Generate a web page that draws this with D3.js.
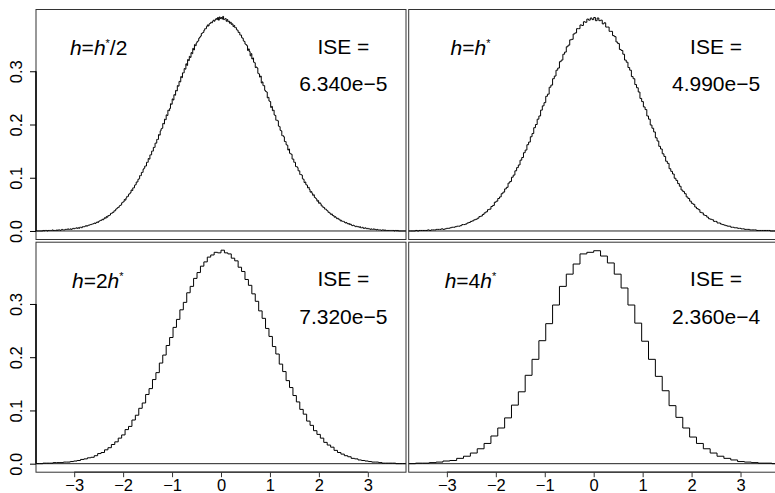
<!DOCTYPE html>
<html>
<head>
<meta charset="utf-8">
<script src="https://cdn.jsdelivr.net/npm/d3@7"></script>
<style>
  body { margin: 0; background: #fff; }
  svg { display: block; font-family: "Liberation Sans", Arial, Helvetica, sans-serif; }
</style>
</head>
<body>
<div id="chart"></div>
<script>
// DATA ------------------------------
// bin heights are density x 1000, read left to right starting at x = -3.78
const binStart = -3.78;
const binWidths = [0.0175, 0.035, 0.07, 0.14];

// h = h*/2
const histHalf = [
  0,0,0,0,0,0,
  0,0,1,0,1,1,1,0,1,1, 1,1,1,2,1,1,1,1,2,1, 2,2,1,2,3,2,2,2,3,3, 3,4,3,3,4,3,4,5,4,5,
  5,6,5,6,5,7,7,6,8,8, 8,9,10,9,10,11,11,12,12,13, 13,14,15,14,16,17,16,18,19,20,
  20,22,21,23,25,24,27,26,29,29, 30,33,33,35,35,38,38,41,42,44, 44,47,48,49,53,54,55,59,58,62,
  65,65,69,70,72,77,76,81,81,86, 87,92,92,97,98,104,104,110,110,116,
  118,122,122,129,129,136,135,143,143,150, 150,157,157,165,165,172,172,181,180,188,
  192,193,202,201,210,209,218,217,227,226, 230,239,238,248,246,256,255,264,263,273,
  272,281,280,290,288,297,297,305,304,314, 311,322,320,328,326,335,333,343,340,350,
  348,353,356,357,362,364,366,371,372,373, 377,380,380,384,387,385,389,390,392,391,
  394,396,394,397,399,397,401,396,402,399,
  401,398,403,397,398,399,394,397,393,394, 390,392,388,389,384,386,382,382,378,377,
  373,373,368,368,363,362,357,356,351,350, 348,339,342,337,329,333,323,325,317,316,
  307,308,306,296,295,289,291,278,280,273, 273,264,262,261,250,251,244,243,232,234,
  226,227,218,217,208,208,207,197,196,189, 188,179,179,177,168,168,162,161,152,154,
  146,145,144,135,135,129,129,121,121,119, 113,113,106,106,105,98,97,91,92,87,
  86,81,82,78,73,74,71,67,68,63, 62,60,56,57,52,53,51,47,47,44,
  44,41,41,39,38,35,35,33,31,32, 29,29,26,27,25,23,24,22,22,19,
  20,18,18,18,16,15,16,14,13,14, 12,13,11,10,11,10,9,8,9,8,
  8,7,8,6,6,7,5,5,6,5, 4,5,4,4,3,4,3,3,4,3, 3,2,3,2,2,2,2,1,2,2,
  1,2,1,1,1,1,1,1,1,1, 1,1,0,1,1,0,1,0,0,0, 0,0,0,0,0,0
];

// h = h*
const histOne = [
  0,0,0,0,1,0,1,1,
  1,1,1,2,1,2,2,2,3,3, 3,4,3,4,5,5,6,7,7,8, 9,9,10,12,12,13,15,16,18,19,
  21,22,24,27,28,31,34,36,40,41, 46,48,54,56,61,64,70,73,79,82,
  90,93,101,105,113,119,124,133,138,147, 152,162,167,177,183,194,200,210,216,227,
  235,241,253,257,270,274,286,291,302,306, 318,321,332,336,346,349,359,360,370,372,
  380,380,387,386,393,392,398,396,400,397,
  401,395,400,395,396,389,391,383,383,375, 375,367,365,355,352,341,339,332,321,317,
  307,302,290,286,275,269,261,249,243,233, 228,216,210,199,193,186,175,169,159,154,
  145,140,131,127,117,112,107,99,95,89, 84,77,74,70,64,61,56,52,50,45,
  42,40,35,34,30,29,26,23,22,21, 18,18,15,15,13,12,11,10,9,9,
  7,7,6,6,5,5,4,4,3,3, 3,2,2,2,2,1,1,1,1,1, 1,1,1,0,0,0,0,0
];

// h = 2h*
const histTwo = [
  0,0,1,1,1,2,2,2,3,3, 4,5,6,8,9,11,12,15,19,21, 26,30,36,41,48,54,64,70,82,91,
  104,114,130,141,158,171,189,204,222,237, 256,271,289,303,321,333,348,359,371,379,
  388,392,397,396,
  401,396,394,386,381,369,361,346,335,319, 305,287,273,254,239,220,206,187,173,156,
  143,128,116,102,93,80,72,62,55,48, 40,35,31,25,21,18,15,13,10,9,
  7,6,5,4,3,3,2,1,1,1, 1,0,0,0
];

// h = 4h*
const histFour = [
  0,1,1,2,3,5,6,10,14,20, 28,38,52,67,86,110,135,166,196,231, 263,298,333,356,375,394,397,
  400,390,377,356,330,298,264,230,196,164, 137,109,87,67,50,38,28,20,14,10, 7,4,3,2,1,1,0
];

const hists = [histHalf, histOne, histTwo, histFour];
const labelMult = ["", "", "2", "4"];
const labelTail = ["/2", "", "", ""];
const iseValues = ["6.340e\u22125", "4.990e\u22125", "7.320e\u22125", "2.360e\u22124"];
const xTicks = [-3, -2, -1, 0, 1, 2, 3];
const yTicks = [0, 0.1, 0.2, 0.3];

// LAYOUT ------------------------------
const W = 775, H = 493;
const panelW = 370, panelH = 230;
const colX = [36, 408.7];
const rowY = [9.5, 242.2];

const svg = d3.select("#chart")
  .append("svg")
  .attr("width", W)
  .attr("height", H);

const line = d3.line().curve(d3.curveStepAfter);

hists.forEach(function(bins, p) {
  const col = p % 2, row = Math.floor(p / 2);
  const left = colX[col], top = rowY[row];

  const x = d3.scaleLinear().domain([-3.78, 3.78]).range([left, left + panelW]);
  const y = d3.scaleLinear().domain([-0.016, 0.416]).range([top + panelH, top]);

  const clipId = "clip" + p;
  svg.append("clipPath").attr("id", clipId)
    .append("rect")
    .attr("x", left).attr("y", top)
    .attr("width", panelW).attr("height", panelH);

  const g = svg.append("g");

  // zero line
  g.append("line")
    .attr("x1", left).attr("x2", left + panelW)
    .attr("y1", y(0)).attr("y2", y(0))
    .attr("stroke", "#222").attr("stroke-width", 1);

  // histogram outline
  const w = binWidths[p];
  const pts = bins.map((v, i) => [x(binStart + i * w), y(v / 1000)]);
  pts.unshift([x(binStart), y(0)]);
  pts.push([x(binStart + bins.length * w), y(bins[bins.length - 1] / 1000)]);
  g.append("path")
    .attr("clip-path", "url(#" + clipId + ")")
    .attr("d", line(pts))
    .attr("fill", "none")
    .attr("stroke", "#000")
    .attr("stroke-width", 1);

  // frame
  g.append("rect")
    .attr("x", left).attr("y", top)
    .attr("width", panelW).attr("height", panelH)
    .attr("fill", "none")
    .attr("stroke", "#333")
    .attr("stroke-width", 1);

  // h label
  const lab = g.append("text")
    .attr("x", x(-2.5)).attr("y", y(0.345))
    .attr("dy", "0.36em")
    .attr("text-anchor", "middle")
    .attr("font-size", 21)
    .attr("fill", "#000");
  lab.append("tspan").attr("font-style", "italic").text("h");
  lab.append("tspan").text("=" + labelMult[p]);
  lab.append("tspan").attr("font-style", "italic").text("h");
  lab.append("tspan").attr("font-size", 11).attr("dy", -8).text("*");
  lab.append("tspan").attr("dy", 8).text(labelTail[p] || "\u200a");

  // ISE text
  g.append("text")
    .attr("x", x(2.5)).attr("y", y(0.347))
    .attr("dy", "0.36em")
    .attr("text-anchor", "middle")
    .attr("font-size", 21)
    .text("ISE =");
  g.append("text")
    .attr("x", x(2.5)).attr("y", y(0.277))
    .attr("dy", "0.36em")
    .attr("text-anchor", "middle")
    .attr("font-size", 21)
    .text(iseValues[p]);

  // y axis on left column
  if (col === 0) {
    const ya = g.append("g")
      .attr("transform", "translate(" + left + ",0)")
      .call(d3.axisLeft(y).tickValues(yTicks).tickSize(6).tickFormat(d3.format(".1f")));
    ya.select(".domain").remove();
    ya.selectAll(".tick line").attr("stroke", "#000");
    ya.selectAll("text")
      .attr("transform", "rotate(-90)")
      .attr("text-anchor", "middle")
      .attr("x", 0).attr("y", -19.5).attr("dy", "0.36em")
      .attr("font-size", 16.5)
      .attr("font-family", "Liberation Sans, Arial, sans-serif")
      .attr("fill", "#000");
    g.append("line")
      .attr("x1", left).attr("x2", left)
      .attr("y1", y(0)).attr("y2", y(0.3))
      .attr("stroke", "#000").attr("stroke-width", 1.5);
  }

  // x axis on bottom row
  if (row === 1) {
    const xa = g.append("g")
      .attr("transform", "translate(0," + (top + panelH) + ")")
      .call(d3.axisBottom(x).tickValues(xTicks).tickSize(5).tickPadding(2));
    xa.select(".domain").remove();
    xa.selectAll(".tick line").attr("stroke", "#333");
    xa.selectAll("text")
      .attr("font-size", 16.5)
      .attr("font-family", "Liberation Sans, Arial, sans-serif")
      .attr("fill", "#000");
    g.append("line")
      .attr("x1", x(-3)).attr("x2", x(3))
      .attr("y1", top + panelH).attr("y2", top + panelH)
      .attr("stroke", "#333").attr("stroke-width", 1.2);
  }
});
</script>
</body>
</html>
